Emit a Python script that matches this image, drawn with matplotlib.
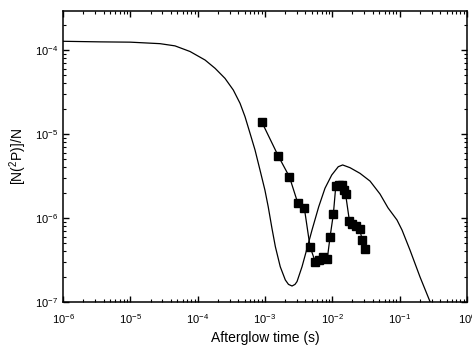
import matplotlib
matplotlib.use("Agg")
import matplotlib.pyplot as plt

plt.rcParams['font.family'] = ['Liberation Sans', 'DejaVu Sans']
plt.rcParams['mathtext.fontset'] = 'custom'
plt.rcParams['mathtext.rm'] = 'Liberation Sans'
plt.rcParams['mathtext.it'] = 'Liberation Sans:italic'

# model curve
model_t = [1.0e-6, 3.55e-6, 1.0e-5, 2.76e-5, 4.61e-5, 7.71e-5, 1.29e-4, 1.82e-4,
           2.55e-4, 3.39e-4, 4.27e-4, 5.06e-4, 6.01e-4, 7.13e-4, 8.45e-4, 1.00e-3,
           1.12e-3, 1.27e-3, 1.43e-3, 1.69e-3, 2.01e-3, 2.24e-3, 2.53e-3, 2.80e-3,
           3.00e-3, 3.56e-3, 4.23e-3, 5.01e-3, 6.30e-3, 7.81e-3, 9.84e-3, 1.23e-2,
           1.43e-2, 1.84e-2, 2.59e-2, 3.65e-2, 5.13e-2, 6.75e-2, 9.18e-2, 0.109,
           0.143, 0.202, 0.284, 0.336]
model_n = [1.27e-4, 1.25e-4, 1.24e-4, 1.19e-4, 1.12e-4, 9.6e-5, 7.6e-5, 6.05e-5,
           4.60e-5, 3.34e-5, 2.32e-5, 1.61e-5, 1.02e-5, 6.45e-6, 3.73e-6, 2.15e-6,
           1.36e-6, 7.60e-7, 4.55e-7, 2.63e-7, 1.83e-7, 1.62e-7, 1.55e-7, 1.62e-7,
           1.75e-7, 2.63e-7, 4.36e-7, 7.19e-7, 1.36e-6, 2.26e-6, 3.25e-6, 4.08e-6,
           4.28e-6, 3.97e-6, 3.40e-6, 2.75e-6, 1.93e-6, 1.32e-6, 9.46e-7, 7.19e-7,
           4.16e-7, 1.98e-7, 1.01e-7, 6.1e-8]

# measured points
meas_t = [8.95e-4, 1.58e-3, 2.31e-3, 3.07e-3, 3.86e-3, 4.68e-3, 5.61e-3, 6.43e-3,
          7.38e-3, 8.45e-3, 9.27e-3, 1.04e-2, 1.13e-2, 1.28e-2, 1.38e-2, 1.48e-2,
          1.58e-2, 1.80e-2, 1.99e-2, 2.26e-2, 2.56e-2, 2.80e-2, 3.07e-2]
meas_n = [1.40e-5, 5.47e-6, 3.10e-6, 1.52e-6, 1.30e-6, 4.56e-7, 2.99e-7, 3.14e-7,
          3.47e-7, 3.25e-7, 5.89e-7, 1.11e-6, 2.40e-6, 2.45e-6, 2.47e-6, 2.15e-6,
          1.93e-6, 9.3e-7, 8.4e-7, 8.0e-7, 7.3e-7, 5.47e-7, 4.28e-7]

fig = plt.figure(figsize=(4.72, 3.49), dpi=100)
ax = fig.add_axes([0.1335, 0.1347, 0.8555, 0.8333])

ax.plot(model_t, model_n, color='black', lw=0.9, solid_joinstyle='round')
ax.plot(meas_t, meas_n, color='black', lw=0.9, marker='s', ms=5.5)

ax.set_xscale('log')
ax.set_yscale('log')
ax.set_xlim(1e-6, 1)
ax.set_ylim(1e-7, 2.9e-4)

ax.tick_params(which='both', direction='in', top=True, right=True, labelsize=8)
ax.tick_params(which='major', length=4, width=1)
ax.tick_params(which='minor', length=2.5, width=0.8)
ax.tick_params(axis='x', pad=7)
for s in ax.spines.values():
    s.set_linewidth(1.1)

ax.set_xlabel('Afterglow time (s)', fontsize=10)
ax.set_ylabel('[N($^2$P)]/N', fontsize=10)

fig.savefig('out.png', dpi=100)
